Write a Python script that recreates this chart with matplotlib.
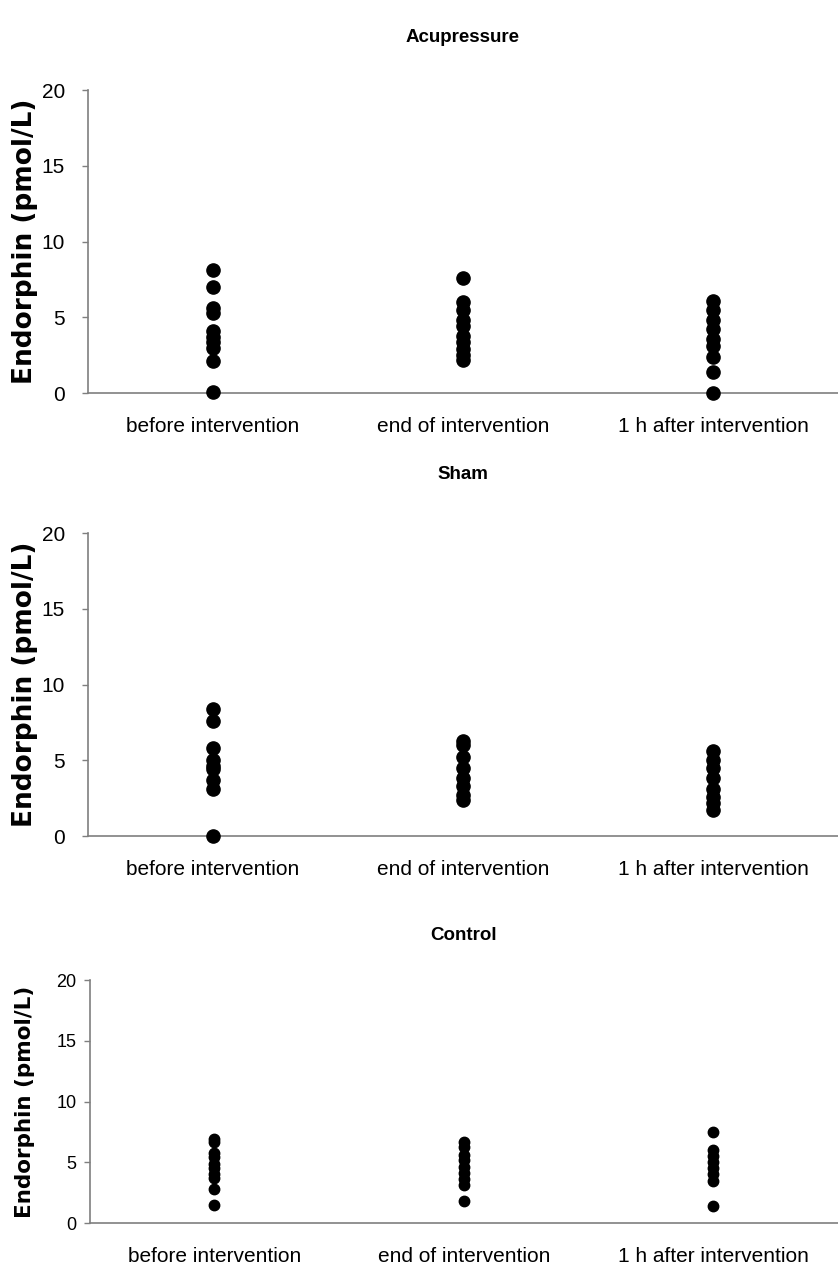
import matplotlib
matplotlib.use("Agg")
import matplotlib.pyplot as plt

plt.rcParams['font.family'] = ['Liberation Sans', 'DejaVu Sans']

categories = ["before intervention", "end of intervention", "1 h after intervention"]
groups = ["Acupressure", "Sham", "Control"]

# endorphin values (pmol/L)
acu_before = [8.1, 7.0, 5.6, 5.3, 4.1, 3.7, 3.4, 3.0, 2.1, 0.1]
acu_end = [7.6, 6.0, 5.5, 4.8, 4.4, 3.8, 3.4, 2.9, 2.5, 2.2]
acu_after = [6.1, 5.5, 4.8, 4.2, 3.6, 3.1, 2.4, 1.4, 0.0]

sham_before = [8.4, 7.6, 5.8, 5.0, 4.6, 4.4, 3.7, 3.1, 0.0]
sham_end = [6.3, 6.0, 5.2, 4.5, 3.8, 3.3, 2.7, 2.4]
sham_after = [5.6, 5.0, 4.5, 3.8, 3.1, 2.6, 2.2, 1.7]

ctrl_before = [6.9, 6.7, 5.8, 5.4, 4.9, 4.5, 4.0, 3.7, 2.8, 1.5]
ctrl_end = [6.7, 6.3, 5.6, 5.2, 4.6, 4.1, 3.6, 3.1, 1.8]
ctrl_after = [7.5, 6.0, 5.5, 5.0, 4.5, 4.0, 3.5, 1.4]

data = {
    "Acupressure": [acu_before, acu_end, acu_after],
    "Sham": [sham_before, sham_end, sham_after],
    "Control": [ctrl_before, ctrl_end, ctrl_after],
}

# axes boxes in figure fractions: left, bottom, width, height
boxes = {
    "Acupressure": [0.105, 0.689, 0.895, 0.2397],
    "Sham": [0.105, 0.3386, 0.895, 0.2397],
    "Control": [0.107, 0.0324, 0.893, 0.1922],
}
# per panel: marker size, y tick label size, y label size, tick pad, title pad
style = {
    "Acupressure": (9.5, 15, 19, 12, 35),
    "Sham": (9.5, 15, 19, 12, 39),
    "Control": (7.5, 13, 15.5, 5, 29),
}

fig = plt.figure(figsize=(8.38, 12.64), dpi=100)
grey = "#7f7f7f"

for g in groups:
    ms, ytick_fs, ylab_fs, ypad, tpad = style[g]
    ax = fig.add_axes(boxes[g])
    for i, vals in enumerate(data[g]):
        ax.plot([i] * len(vals), vals, 'o', color='black',
                markersize=ms, clip_on=False, zorder=3)
    ax.set_xlim(-0.5, 2.5)
    ax.set_ylim(0, 20)
    ax.set_yticks([0, 5, 10, 15, 20])
    ax.set_xticks(range(len(categories)))
    ax.set_xticklabels(categories, fontsize=15)
    ax.tick_params(axis='x', length=0, pad=17)
    ax.tick_params(axis='y', length=4.5, width=1, color=grey,
                   labelsize=ytick_fs, pad=ypad)
    for s in ['top', 'right']:
        ax.spines[s].set_visible(False)
    for s in ['left', 'bottom']:
        ax.spines[s].set_color(grey)
        ax.spines[s].set_linewidth(1.2)

    # y label centred on the plot area
    pos = ax.get_position()
    fig.text(25 / 838, pos.y0 + pos.height / 2, "Endorphin (pmol/L)",
             rotation=90, ha='center', va='center', fontsize=ylab_fs,
             fontweight='bold', family='DejaVu Sans')
    ax.set_title(g, fontsize=13.5, fontweight='bold', pad=tpad)

fig.savefig("out.png", dpi=100)
